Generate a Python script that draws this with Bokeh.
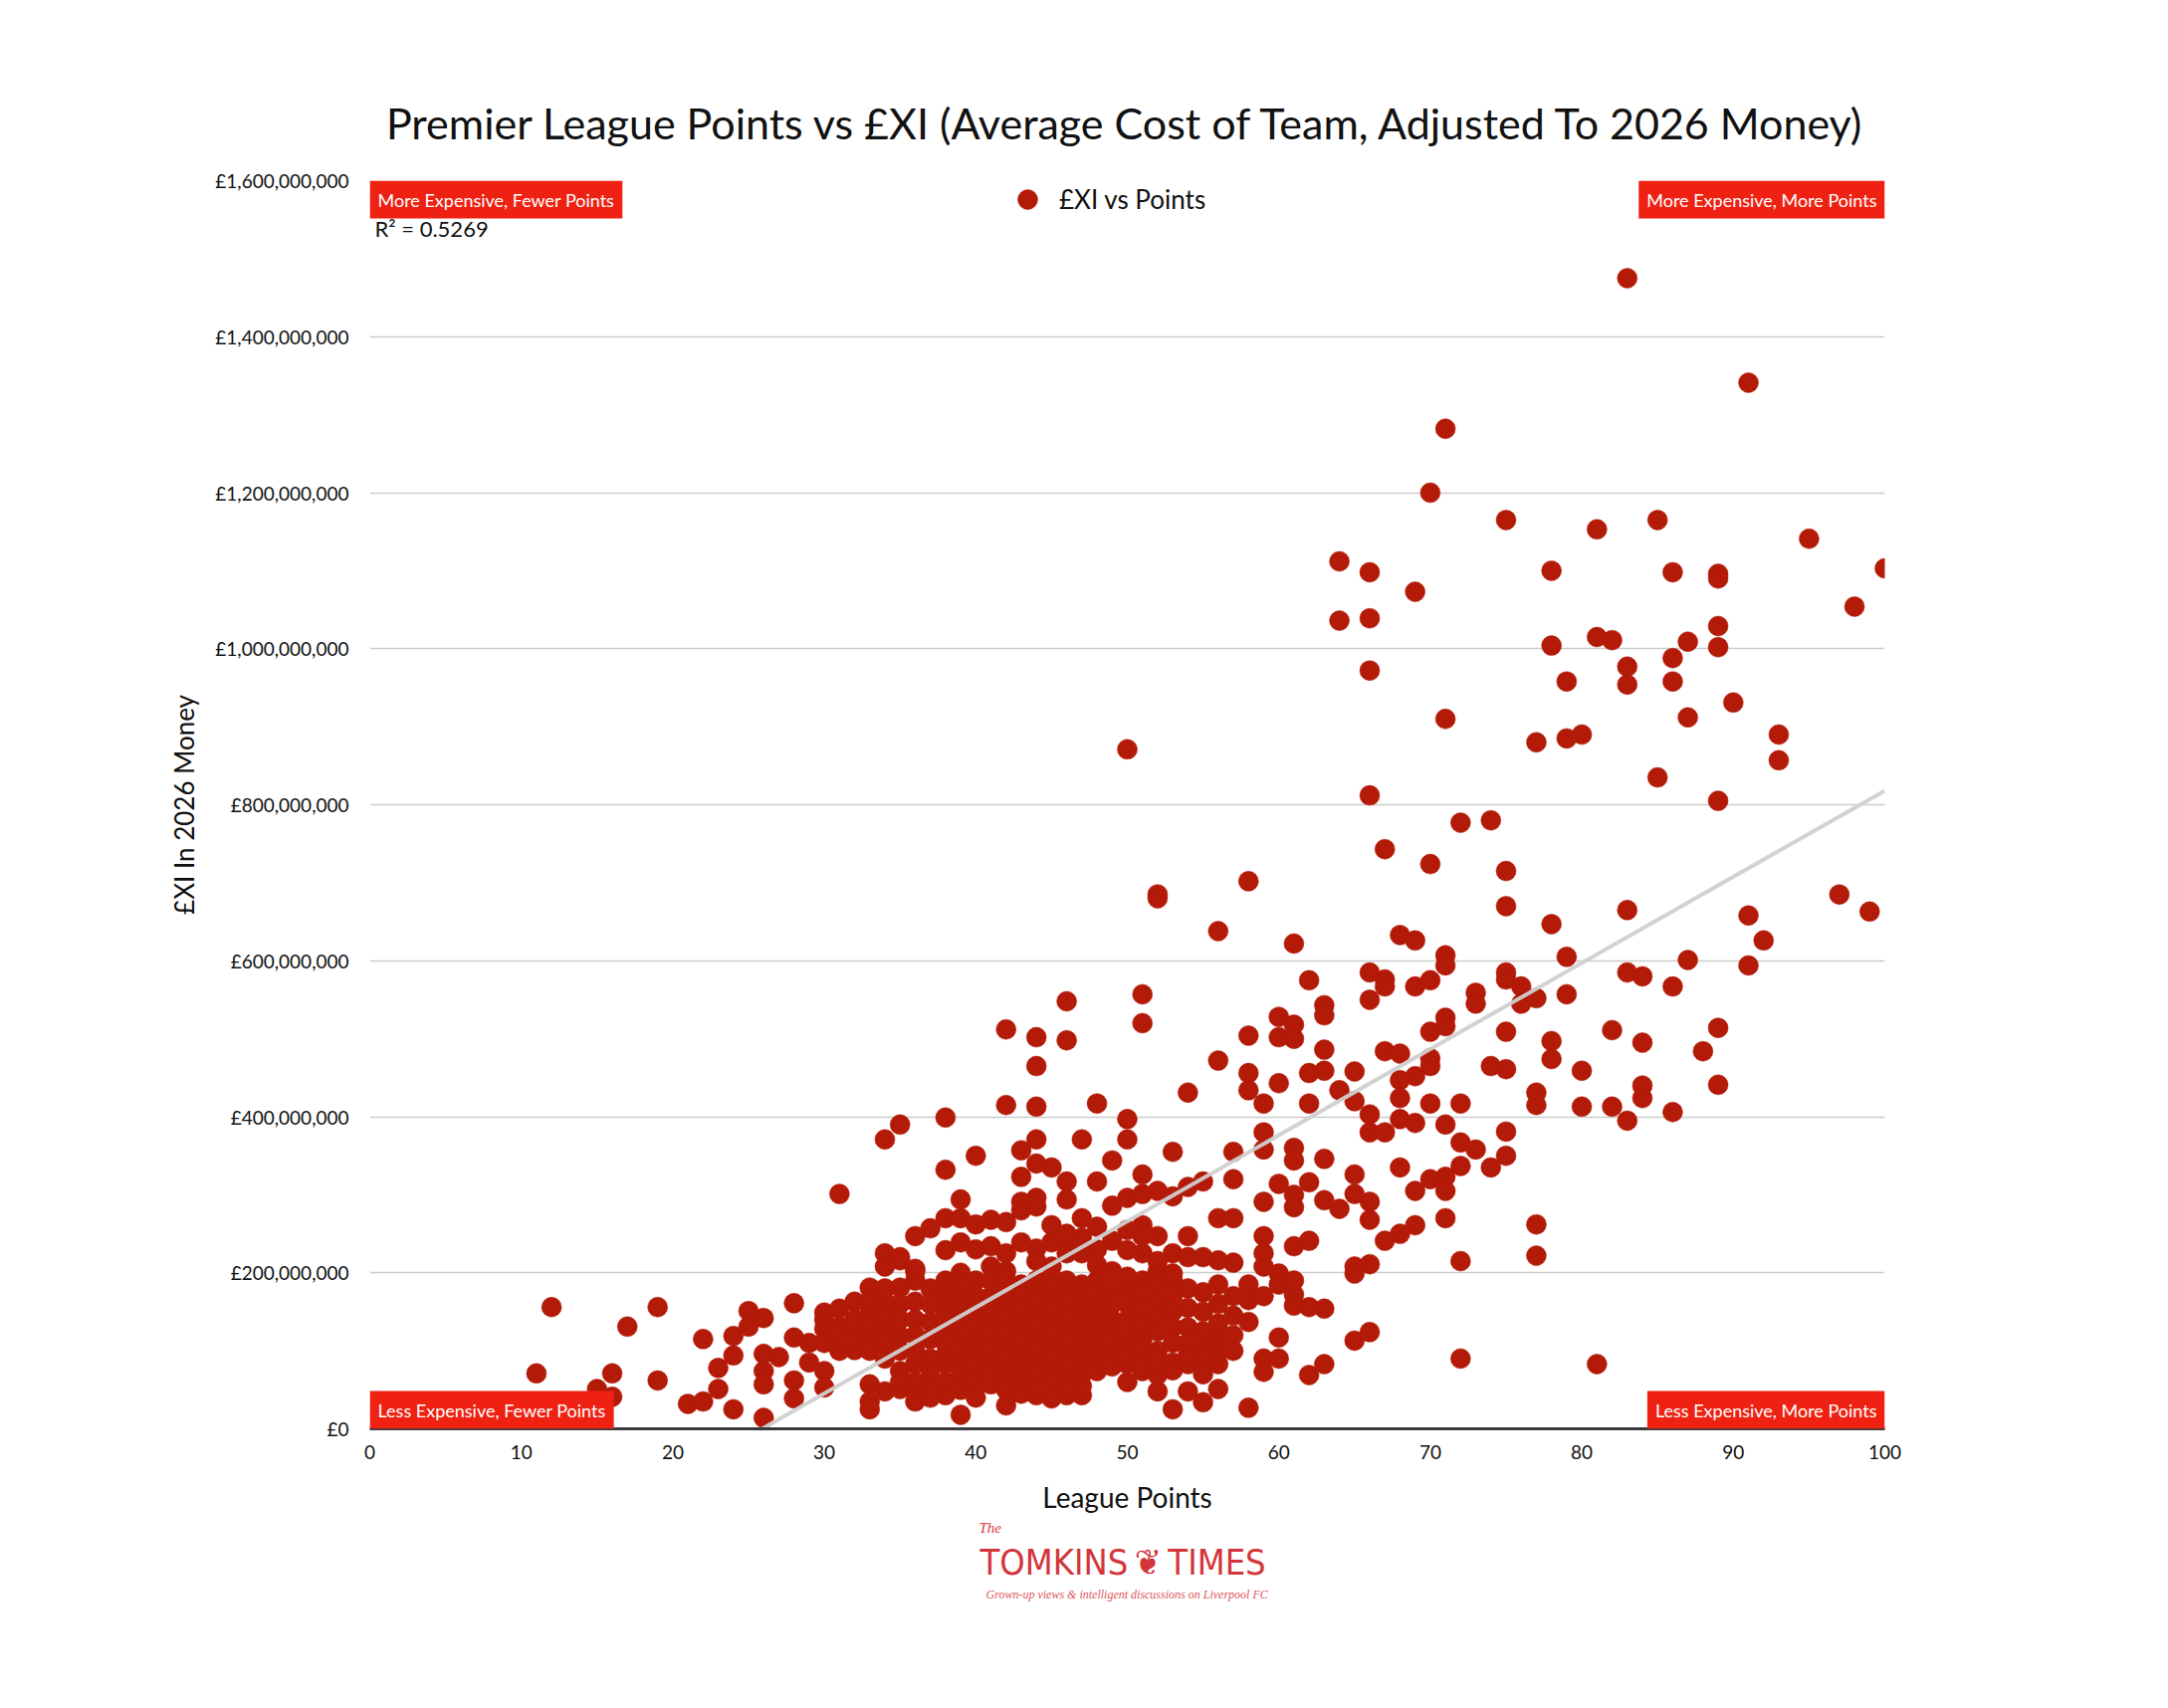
import numpy as np
from bokeh.plotting import figure
from bokeh.models import (Range1d, FixedTicker, CustomJSTickFormatter, Label, Title,
                          Legend, LegendItem, ColumnDataSource)
from bokeh.embed import file_html
from bokeh.resources import INLINE

# ---------------- data (league points, £XI in millions of 2026 pounds) ----------------
TITLE = "Premier League Points vs £XI (Average Cost of Team, Adjusted To 2026 Money)"
X_LABEL = "League Points"
Y_LABEL = "£XI In 2026 Money"
SERIES = "£XI vs Points"
R2_TEXT = "R² = 0.5269"
x_ticks = [0, 10, 20, 30, 40, 50, 60, 70, 80, 90, 100]
y_ticks_m = [0, 200, 400, 600, 800, 1000, 1200, 1400, 1600]

top_pairs = [(83,1475),(91,1341),(71,1282),(70,1200),(75,1165),(81,1153),(85,1165),(95,1141),
             (64,1112),(66,1098),(78,1100),(86,1098),(89,1096),(89,1090),(100,1103),(98,1054),
             (69,1073),(64,1036),(66,1039),(89,1029),(81,1015),(82,1011),(87,1009),(78,1004),
             (89,1002),(83,977),(86,988),(66,972),(79,958),(83,954),(86,958),(90,931),(71,910),
             (87,912),(80,890),(79,885),(77,880),(93,890),(93,857),(50,871),(85,835),(66,812),
             (89,805),(74,780),(72,777),(67,743),(70,724),(75,715),(58,702),(52,685),(52,680),
             (97,685),(99,663),(83,665),(75,670),(91,658),(78,647),(56,638),(68,633),(69,626),
             (92,626),(61,622),(71,607)]

mid_pairs = [(71,594),(79,605),(87,601),(91,594),(66,585),(75,585),(75,576),(83,585),(84,580),
             (67,576),(67,567),(62,575),(70,575),(69,567),(76,567),(73,559),(73,545),(79,557),
             (51,557),(86,567),(66,550),(77,552),(76,545),(46,548),(63,543),(63,530),(61,518),
             (60,528),(71,527),(71,516),(51,520),(70,509),(75,509),(82,511),(89,514),(42,512),
             (44,502),(46,498),(58,504),(60,502),(61,500),(67,484),(68,481),(63,486),(84,495),
             (78,497),(88,484),(56,472),(78,474),(70,475),(70,465),(74,465),(75,461),(44,465),
             (80,459),(65,458),(62,456),(58,456),(69,452),(63,459),(60,443),(68,447),(89,441),
             (84,440),(84,424),(58,434),(64,434),(54,431),(77,431),(68,424),(65,420),(62,417),
             (59,417),(70,417),(72,417),(80,413),(82,413),(77,415),(86,406),(38,399),(50,397),
             (42,415),(44,413),(48,417),(66,403),(68,397),(83,395),(35,390),(71,390),(69,392),
             (34,371),(44,371),(47,371),(50,371),(59,380),(66,380),(75,381),(67,380),(72,367),
             (73,358),(53,355),(57,355),(59,358),(61,360),(43,357),(40,350),(75,350),(74,335),
             (72,337),(68,335),(61,344),(63,346),(49,344),(44,340),(45,335),(38,332),(51,326),
             (43,323),(70,320),(71,323),(65,326),(62,316),(57,320),(60,314),(46,317),(48,317),
             (52,305),(54,310),(55,317),(71,305),(69,305),(31,301),(50,296),(51,301),(53,298),
             (61,300),(63,293),(65,301),(44,296),(39,294),(46,294),(59,291),(61,284),(64,282),
             (66,291),(49,286),(43,291),(47,270),(71,270),(77,262),(66,268),(56,270),(57,270),
             (38,270),(39,270),(41,268),(40,262),(45,261),(69,261),(48,259),(51,261),(68,250),
             (37,257),(36,247),(52,247),(54,247),(59,247),(67,241),(62,241),(61,234),(49,241),
             (51,247),(45,239),(46,239),(43,239),(41,234),(39,239),(34,225),(38,229),(44,231),
             (77,222),(72,215),(59,225),(55,220),(57,213),(56,216),(53,225),(51,225),(50,229),
             (47,225),(65,208),(65,199),(66,211),(60,199),(59,208),(34,208),(35,216),(36,202),
             (41,208),(42,202),(45,208),(49,202),(52,202),(53,199),(42,265),(43,280),(44,285),
             (46,250),(47,245),(48,230),(50,255),(52,215),(54,220),(40,230),(42,225),(44,215),
             (46,225),(48,210)]

low_pairs = [(11,71),(12,156),(15,51),(16,71),(16,41),(17,131),(19,156),(19,62),(21,32),(22,115),
             (22,35),(23,78),(23,51),(24,119),(24,94),(24,25),(25,151),(25,131),(26,142),(26,96),
             (26,74),(26,57),(26,14),(27,92),(28,161),(28,117),(28,62),(28,39),(29,110),(29,85),
             (30,149),(30,128),(30,110),(30,74),(30,53),(30,140),(31,154),(31,131),(31,100),(31,120),
             (32,163),(32,128),(32,101),(32,140),(32,115),(33,181),(33,149),(33,119),(33,57),(33,35),
             (33,25),(33,165),(33,135),(33,100),(34,163),(34,128),(34,48),(34,180),(34,145),(34,110),
             (34,90),(35,181),(35,119),(35,74),(35,51),(35,160),(35,140),(35,100),(35,60),(35,220),
             (36,163),(36,83),(36,48),(36,35),(36,190),(36,140),(36,120),(36,100),(36,60),(36,205),
             (37,137),(37,57),(37,180),(37,160),(37,115),(37,90),(37,75),(37,40),(38,128),(38,83),
             (38,43),(38,190),(38,170),(38,150),(38,110),(38,95),(38,60),(39,18),(39,200),(39,180),
             (39,160),(39,140),(39,120),(39,100),(39,85),(39,70),(39,50),(40,57),(40,110),(40,190),
             (40,170),(40,150),(40,130),(40,95),(40,80),(40,65),(40,40),(41,57),(41,190),(41,170),
             (41,150),(41,135),(41,120),(41,100),(41,85),(41,70),(42,30),(42,83),(42,190),(42,175),
             (42,155),(42,140),(42,120),(42,105),(42,95),(42,65),(42,50),(43,185),(43,170),(43,150),
             (43,135),(43,120),(43,110),(43,95),(43,80),(43,65),(43,45),(44,43),(44,190),(44,175),
             (44,160),(44,145),(44,130),(44,115),(44,100),(44,85),(44,70),(44,55),(45,39),(45,195),
             (45,180),(45,165),(45,150),(45,135),(45,120),(45,105),(45,90),(45,75),(45,60),(46,43),
             (46,190),(46,175),(46,160),(46,140),(46,125),(46,110),(46,95),(46,80),(46,65),(46,50),
             (47,43),(47,185),(47,165),(47,150),(47,135),(47,120),(47,100),(47,85),(47,70),(47,55),
             (48,74),(48,190),(48,170),(48,150),(48,135),(48,120),(48,105),(48,90),(48,160),(49,180),
             (49,160),(49,140),(49,125),(49,110),(49,95),(49,80),(50,83),(50,195),(50,175),(50,160),
             (50,140),(50,120),(50,105),(50,90),(50,60),(51,74),(51,190),(51,170),(51,150),(51,130),
             (51,115),(51,100),(51,80),(52,69),(52,48),(52,185),(52,165),(52,145),(52,125),(52,100),
             (52,90),(53,25),(53,190),(53,170),(53,150),(53,130),(53,110),(53,85),(53,75),(54,48),
             (54,83),(54,180),(54,155),(54,130),(54,110),(54,95),(55,34),(55,175),(55,150),(55,125),
             (55,105),(55,90),(55,70),(56,51),(56,83),(56,185),(56,160),(56,135),(56,115),(56,100),
             (57,170),(57,145),(57,120),(57,100),(58,27),(58,137),(58,185),(58,165),(59,90),(59,73),
             (59,170),(60,117),(60,90),(60,185),(61,172),(61,158),(61,190),(62,156),(62,69),(63,154),
             (63,83),(65,113),(66,124),(72,90),(81,83)]

# linear trend (x where it crosses £0, value at 100 points)
trend_x = [25.9, 100]
trend_y_m = [0, 818]

all_pairs = top_pairs + mid_pairs + low_pairs
league_points = [a for a, b in all_pairs]
xi_cost = [b * 1e6 for a, b in all_pairs]

# ---------------- layout (page pixels) ----------------
W, H = 2162, 1700
FX0, FX1, FY0, FY1 = 371, 1893, 181, 1435    # plot frame edges on the page
YMAX = 1.6e9

def dx(px):
    return (px - FX0) / (FX1 - FX0) * 100.0

def dy(py):
    return (FY1 - py) / (FY1 - FY0) * YMAX

FONT = "Lato"
RED_DOT = "#B31A08"
RED_BOX = "#EE2112"
INK = "#111111"

p = figure(width=W, height=H, output_backend="svg", toolbar_location=None,
           x_range=Range1d(0, 100), y_range=Range1d(0, YMAX),
           min_border_left=FX0, min_border_right=W - FX1,
           min_border_top=FY0, min_border_bottom=H - FY1)
p.outline_line_color = None
p.background_fill_color = "white"
p.border_fill_color = "white"

# title (above the frame)
p.title.text = TITLE
p.title.align = "center"
p.title.text_font = FONT
p.title.text_font_style = "normal"
p.title.text_font_size = "43px"
p.title.text_color = INK
p.title.standoff = 66

# grid
p.xgrid.visible = False
p.ygrid.grid_line_color = "#cccccc"
p.ygrid.grid_line_width = 1.5
p.ygrid.ticker = FixedTicker(ticks=[v * 1e6 for v in y_ticks_m])

# axes
p.xaxis.ticker = FixedTicker(ticks=x_ticks)
p.xaxis.major_tick_line_color = None
p.xaxis.minor_tick_line_color = None
p.xaxis.major_tick_out = 0
p.xaxis.major_tick_in = 0
p.xaxis.axis_line_color = "#3a3a3a"
p.xaxis.axis_line_width = 3
p.xaxis.major_label_text_font = FONT
p.xaxis.major_label_text_font_size = "19px"
p.xaxis.major_label_text_color = INK
p.xaxis.major_label_standoff = 16
p.xaxis.axis_label = X_LABEL
p.xaxis.axis_label_text_font = FONT
p.xaxis.axis_label_text_font_size = "28px"
p.xaxis.axis_label_text_font_style = "normal"
p.xaxis.axis_label_text_color = INK
p.xaxis.axis_label_standoff = 18

p.yaxis.ticker = FixedTicker(ticks=[v * 1e6 for v in y_ticks_m])
p.yaxis.formatter = CustomJSTickFormatter(code="""
    const s = Math.round(tick).toString().replace(/\\B(?=(\\d{3})+(?!\\d))/g, ",");
    return "\u00a3" + s;
""")
p.yaxis.axis_line_color = None
p.yaxis.major_tick_line_color = None
p.yaxis.minor_tick_line_color = None
p.yaxis.major_tick_out = 0
p.yaxis.major_tick_in = 0
p.yaxis.major_label_text_font = FONT
p.yaxis.major_label_text_font_size = "19px"
p.yaxis.major_label_text_color = INK
p.yaxis.major_label_standoff = 21
p.yaxis.axis_label = Y_LABEL
p.yaxis.axis_label_text_font = FONT
p.yaxis.axis_label_text_font_size = "26px"
p.yaxis.axis_label_text_font_style = "normal"
p.yaxis.axis_label_text_color = INK
p.yaxis.axis_label_standoff = 12

# points
src = ColumnDataSource(data=dict(x=league_points, y=xi_cost))
r = p.scatter("x", "y", source=src, size=20, marker="circle",
              fill_color=RED_DOT, line_color=RED_DOT, line_width=0.5)

# trend line
p.line(trend_x, [v * 1e6 for v in trend_y_m], line_color="#d0d0d0", line_width=4, line_alpha=0.95)

# legend (circle centre at page 1032, 200 - kept just inside the frame)
cx, cy = 1032 - FX0, FY1 - 200
legend = Legend(items=[LegendItem(label=SERIES, renderers=[r])],
                location=(cx - 25, cy - 25), glyph_width=50, glyph_height=50,
                label_standoff=7, padding=0, margin=0, border_line_color=None,
                background_fill_alpha=0, label_text_font=FONT,
                label_text_font_size="26px", label_text_color=INK,
                label_height=30)
p.add_layout(legend)

# R^2
p.add_layout(Label(x=dx(376), y=dy(229), text=R2_TEXT, text_align="left",
                   text_baseline="middle", text_font=FONT,
                   text_font_size="22px", text_color=INK))

# quadrant boxes
def box(text, px, py, anchor):
    p.add_layout(Label(x=dx(px), y=dy(py), text=text, anchor=anchor,
                       text_font=FONT, text_font_size="18px",
                       text_color="white", background_fill_color=RED_BOX,
                       padding=8))

box("More Expensive, Fewer Points", FX0, FY0, "top_left")
box("More Expensive, More Points", FX1, FY0, "top_right")
box("Less Expensive, Fewer Points", FX0, FY1, "bottom_left")
box("Less Expensive, More Points", FX1, FY1, "bottom_right")

# logo (below the x axis)
LOGO_RED = "#D4353B"
p.add_layout(Title(text="The", align="left", offset=983 - FX0, vertical_align="top",
                   standoff=6, text_font="Liberation Serif", text_font_style="italic",
                   text_font_size="15px", text_color=LOGO_RED), "below")
p.add_layout(Title(text="TOMKINS\u2009\u2766\u2009TIMES", align="left", offset=984 - FX0,
                   vertical_align="top", standoff=2,
                   text_font="DejaVu Sans Condensed, DejaVu Sans, sans-serif",
                   text_font_style="normal", text_font_size="36px",
                   text_color=LOGO_RED), "below")
p.add_layout(Title(text="Grown-up views & intelligent discussions on Liverpool FC",
                   align="left", offset=990 - FX0, vertical_align="top", standoff=4,
                   text_font="Liberation Serif", text_font_style="italic",
                   text_font_size="12px", text_color="#E0565B"), "below")

open("out.html", "w").write(file_html(p, INLINE))
